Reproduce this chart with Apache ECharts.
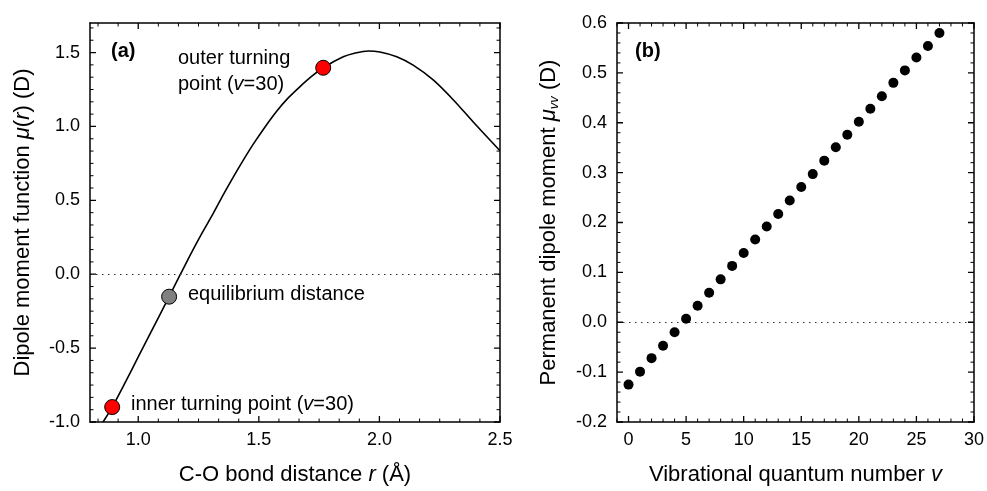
<!DOCTYPE html>
<html>
<head>
<meta charset="utf-8">
<script src="https://cdn.jsdelivr.net/npm/echarts@6/dist/echarts.min.js"></script>
<style>
html,body{margin:0;padding:0;background:#fff;}
#chart{width:987px;height:491px;}
</style>
</head>
<body>
<div id="chart"></div>
<script>
// ---- Panel (a): dipole moment function ----
const curveR  = [0.854, 0.892, 0.95, 1.00, 1.05, 1.128, 1.175, 1.222, 1.265, 1.311, 1.35, 1.394, 1.435, 1.477, 1.525, 1.574, 1.62, 1.671, 1.72, 1.767, 1.85, 1.90, 1.954, 2.002, 2.072, 2.140, 2.223, 2.306, 2.389, 2.5];
const curveMu = [-1.0, -0.899, -0.72, -0.56, -0.40, -0.152, 0.0, 0.15, 0.28, 0.412, 0.53, 0.657, 0.77, 0.88, 0.995, 1.103, 1.19, 1.27, 1.34, 1.397, 1.471, 1.497, 1.511, 1.504, 1.472, 1.415, 1.315, 1.181, 1.03, 0.835];
const turningR  = [0.892, 1.767];
const turningMu = [-0.899, 1.397];
const equilR  = [1.128];
const equilMu = [-0.152];
const xTicksA = [1.0, 1.5, 2.0, 2.5];
const yTicksA = [-1.0, -0.5, 0.0, 0.5, 1.0, 1.5];

// ---- Panel (b): permanent dipole moments ----
const vNumbers = [0,1,2,3,4,5,6,7,8,9,10,11,12,13,14,15,16,17,18,19,20,21,22,23,24,25,26,27];
const muVV = [-0.125, -0.099, -0.072, -0.047, -0.020, 0.007, 0.033, 0.059, 0.086, 0.113, 0.139, 0.166, 0.192, 0.217, 0.244, 0.271, 0.297, 0.324, 0.351, 0.376, 0.402, 0.428, 0.453, 0.480, 0.505, 0.531, 0.554, 0.580];
const xTicksB = [0, 5, 10, 15, 20, 25, 30];
const yTicksB = [-0.2, -0.1, 0.0, 0.1, 0.2, 0.3, 0.4, 0.5, 0.6];

function steps(start, end, step) {
  const out = [];
  const n = Math.floor((end - start) / step + 1e-9);
  for (let k = 0; k <= n; k++) out.push(+(start + k * step).toFixed(6));
  return out;
}
// all tick positions (major + minor)
const xAllA = steps(1.0 - 2/12, 2.5, 1/12);
const yAllA = steps(-1.0, 1.7, 1/12);
const xAllB = steps(-1, 30, 1);
const yAllB = steps(-0.2, 0.6, 0.02);

// layout
const gridA = {left:90, top:23, width:410, height:403};
const gridB = {left:617, top:23, width:358, height:403};
const rangeA = {x:[0.8, 2.5], y:[-1.0, 1.7]};
const rangeB = {x:[-1, 30], y:[-0.2, 0.6]};

const FONT = 'Liberation Sans, Arial, Helvetica, sans-serif';
const lbl = {color:'#000', fontFamily: FONT, fontSize: 18};
const f1 = v => v.toFixed(1);
const f0 = v => String(Math.round(v));

function mkAxis(kind, grid, pos, range, majors, withLabels, fmt, extra) {
  return Object.assign({
    type:'value', gridIndex:grid, position:pos, min:range[0], max:range[1],
    splitLine:{show:false},
    axisLine:{show:true, onZero:false, lineStyle:{color:'#000', width:1.5}},
    axisTick:{show:false},
    axisLabel: withLabels ? Object.assign({show:true, customValues:majors, formatter:fmt, margin: kind==='x'?9:10}, lbl) : {show:false}
  }, extra || {});
}

const nameStyle = {
  color:'#000', fontFamily: FONT, fontSize: 22,
  rich: {
    i: {fontStyle:'italic', fontFamily: FONT, fontSize: 22, color:'#000'},
    s: {fontStyle:'italic', fontFamily: FONT, fontSize: 13, color:'#000', padding:[12,0,0,0]}
  }
};

const xAxes = [
  mkAxis('x', 0, 'bottom', rangeA.x, xTicksA, true, f1,
    {name:'C-O bond distance {i|r} (Å)', nameLocation:'middle', nameGap:42, nameTextStyle:nameStyle}),
  mkAxis('x', 0, 'top', rangeA.x, xTicksA, false),
  mkAxis('x', 1, 'bottom', rangeB.x, xTicksB, true, f0,
    {name:'Vibrational quantum number {i|v}', nameLocation:'middle', nameGap:42, nameTextStyle:nameStyle}),
  mkAxis('x', 1, 'top', rangeB.x, xTicksB, false)
];
const yAxes = [
  mkAxis('y', 0, 'left', rangeA.y, yTicksA, true, f1,
    {name:'Dipole moment function {i|μ}({i|r}) (D)', nameLocation:'middle', nameGap:56, nameRotate:90, nameTextStyle:nameStyle}),
  mkAxis('y', 0, 'right', rangeA.y, yTicksA, false),
  mkAxis('y', 1, 'left', rangeB.y, yTicksB, true, f1,
    {name:'Permanent dipole moment {i|μ}{s|vv} (D)', nameLocation:'middle', nameGap:56, nameRotate:90, nameTextStyle:nameStyle}),
  mkAxis('y', 1, 'right', rangeB.y, yTicksB, false)
];

// Inward tick marks on all four sides, drawn as broken line series on the panel's own axes.
function tickSeries(axisIdx, grid, range, xVals, xMaj, yVals, yMaj, major) {
  const isMaj = (arr, v) => arr.some(m => Math.abs(m - v) < 1e-6);
  const lenPx = major ? 6 : 3.5;
  const dx = lenPx * (range.x[1] - range.x[0]) / grid.width;
  const dy = lenPx * (range.y[1] - range.y[0]) / grid.height;
  const d = [];
  xVals.filter(v => isMaj(xMaj, v) === major).forEach(v => {
    d.push([v, range.y[0]], [v, range.y[0] + dy], [v, '-']);
    d.push([v, range.y[1]], [v, range.y[1] - dy], [v, '-']);
  });
  yVals.filter(v => isMaj(yMaj, v) === major).forEach(v => {
    d.push([range.x[0], v], [range.x[0] + dx, v], ['-', v]);
    d.push([range.x[1], v], [range.x[1] - dx, v], ['-', v]);
  });
  return {
    type:'line', xAxisIndex:axisIdx, yAxisIndex:axisIdx, data:d,
    showSymbol:false, symbol:'none', silent:true, clip:false, connectNulls:false,
    smooth:false, z:6, lineStyle:{color:'#000', width: major ? 1.3 : 1}
  };
}

const zeroLine = {
  silent:true, symbol:['none','none'], label:{show:false},
  lineStyle:{type:[1.5,4.5], color:'#333', width:1},
  data:[{yAxis:0}]
};

const annoStyle = {fontFamily: FONT, fontSize: 20, fill:'#000',
  rich:{i:{fontStyle:'italic', fontFamily: FONT, fontSize:20, color:'#000'}}};

const option = {
  animation:false,
  backgroundColor:'#fff',
  grid:[Object.assign({show:false}, gridA), Object.assign({show:false}, gridB)],
  xAxis: xAxes,
  yAxis: yAxes,
  series:[
    tickSeries(0, gridA, rangeA, xAllA, xTicksA, yAllA, yTicksA, true),
    tickSeries(0, gridA, rangeA, xAllA, xTicksA, yAllA, yTicksA, false),
    tickSeries(2, gridB, rangeB, xAllB, xTicksB, yAllB, yTicksB, true),
    tickSeries(2, gridB, rangeB, xAllB, xTicksB, yAllB, yTicksB, false),
    {
      type:'line', xAxisIndex:0, yAxisIndex:0, smooth:0.3, showSymbol:false, symbol:'none',
      data: curveR.map((r,i)=>[r, curveMu[i]]),
      lineStyle:{color:'#000', width:1.6}, z:2,
      markLine: zeroLine
    },
    {
      type:'scatter', xAxisIndex:0, yAxisIndex:0, symbolSize:15,
      data: turningR.map((r,i)=>[r, turningMu[i]]),
      itemStyle:{color:'#ff0000', borderColor:'#000', borderWidth:1, opacity:1}, z:5
    },
    {
      type:'scatter', xAxisIndex:0, yAxisIndex:0, symbolSize:15,
      data: equilR.map((r,i)=>[r, equilMu[i]]),
      itemStyle:{color:'#808080', borderColor:'#000', borderWidth:1, opacity:1}, z:5
    },
    {
      type:'scatter', xAxisIndex:2, yAxisIndex:2, symbolSize:10,
      data: vNumbers.map((v,i)=>[v, muVV[i]]),
      itemStyle:{color:'#000', opacity:1}, z:5,
      markLine: zeroLine
    }
  ],
  graphic:[
    {type:'text', left:111, top:41, style:{text:'(a)', fontFamily:FONT, fontSize:20, fontWeight:'bold', fill:'#000'}},
    {type:'text', left:635, top:41, style:{text:'(b)', fontFamily:FONT, fontSize:20, fontWeight:'bold', fill:'#000'}},
    {type:'text', left:178, top:45, style:Object.assign({text:'outer turning\npoint ({i|v}=30)', lineHeight:26}, annoStyle)},
    {type:'text', left:188, top:284, style:Object.assign({text:'equilibrium distance'}, annoStyle)},
    {type:'text', left:131, top:394, style:Object.assign({text:'inner turning point ({i|v}=30)'}, annoStyle)}
  ]
};

const chart = echarts.init(document.getElementById('chart'), null, {renderer:'canvas'});
chart.setOption(option);
</script>
</body>
</html>
